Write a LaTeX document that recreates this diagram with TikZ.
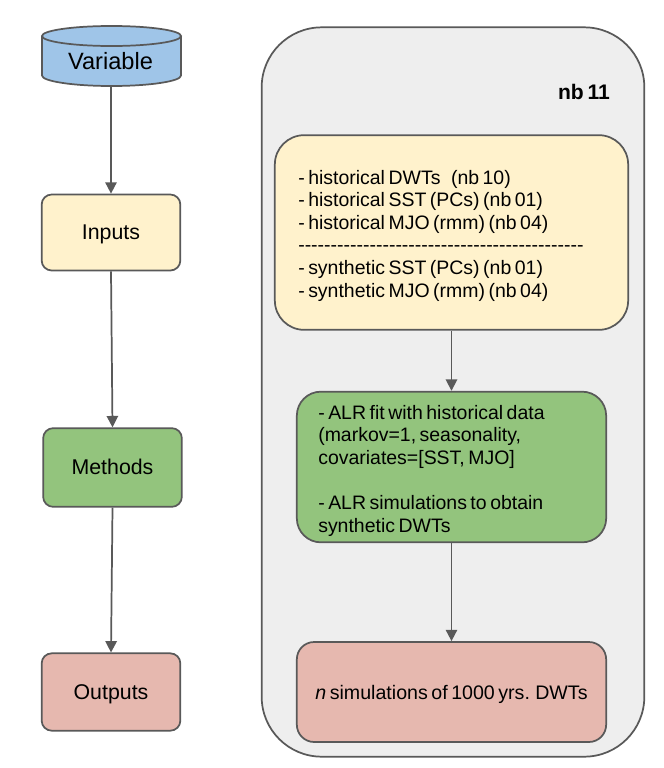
\documentclass[tikz,border=0pt]{standalone}
\usepackage{fontspec}
\setmainfont[WordSpace=0.65]{Liberation Sans}
\usetikzlibrary{arrows.meta}
\definecolor{edge}{HTML}{595959}
\definecolor{cblue}{HTML}{9FC5E8}
\definecolor{cyel}{HTML}{FFF2CC}
\definecolor{cgrn}{HTML}{93C47D}
\definecolor{cred}{HTML}{E6B8AF}
\definecolor{cgry}{HTML}{EEEEEE}
\tikzset{x=0.75pt,y=-0.75pt,
 line/.style={draw=edge,line width=1.3pt},
 box/.style={line,rounded corners=7.5pt,anchor=center,align=center,inner sep=0pt,text height=11pt,text depth=0pt,font=\fontsize{16}{18}\selectfont},
 arr/.style={line,-{Triangle[length=8.5pt,width=8.5pt]}},
 txt/.style={anchor=north west,align=left,inner sep=0pt,font=\fontsize{14.6}{16.9}\selectfont}}
\begin{document}
\begin{tikzpicture}
\useasboundingbox (0,0) rectangle (664,768);
\fill[white] (0,0) rectangle (664,768);
% left column
\fill[cblue] (42,36) arc[start angle=180,end angle=360,x radius=69.5,y radius=10] -- (181,75.5) arc[start angle=0,end angle=180,x radius=69.5,y radius=10.5] -- cycle;
\draw[line] (42,36) arc[start angle=180,end angle=-180,x radius=69.5,y radius=10] -- (42,75.5) arc[start angle=180,end angle=0,x radius=69.5,y radius=10.5] -- (181,36);
\node[font=\fontsize{17.7}{20}\selectfont,inner sep=0pt] (vart) at (110.5,61) {Variable};
\coordinate (var) at (111,86);
\node[box,fill=cyel,minimum width=104pt,minimum height=57pt] (inp) at (111,232.5) {Inputs};
\node[box,fill=cgrn,minimum width=104pt,minimum height=59pt] (met) at (112.5,467.5) {Methods};
\node[box,fill=cred,minimum width=104pt,minimum height=58pt] (out) at (111,692) {Outputs};
\draw[arr] (var) -- (inp.north);
\draw[arr] (inp.south) -- (met.north);
\draw[arr] (met.south) -- (out.north);
% right panel
\node[line,fill=cgry,rounded corners=45pt,minimum width=287pt,minimum height=547pt,inner sep=0pt] (panel) at (453,392) {};
\node[font=\bfseries\fontsize{15.8}{18}\selectfont,inner sep=0pt] (nb) at (584,92) {nb 11};
\node[box,fill=cyel,rounded corners=22pt,minimum width=265pt,minimum height=146pt] (a) at (451.5,232.5) {};
\node[txt] (at) at (298,170) {- historical DWTs\ \ \ (nb 10)\\- historical SST (PCs) (nb 01)\\- historical MJO (rmm) (nb 04)\\-{}-{}-{}-{}-{}-{}-{}-{}-{}-{}-{}-{}-{}-{}-{}-{}-{}-{}-{}-{}-{}-{}-{}-{}-{}-{}-{}-{}-{}-{}-{}-{}-{}-{}-{}-{}-{}-{}-{}-{}-{}-{}-{}-{}\\- synthetic SST (PCs) (nb 01)\\- synthetic MJO (rmm) (nb 04)};
\node[box,fill=cgrn,rounded corners=18pt,minimum width=232pt,minimum height=113pt] (b) at (451.5,467) {};
\node[txt] (bt) at (318,405) {- ALR fit with historical data\\(markov=1, seasonality,\\covariates=[SST, MJO]\\[16.9pt]- ALR simulations to obtain\\synthetic DWTs};
\node[box,fill=cred,rounded corners=13pt,minimum width=232pt,minimum height=75pt,font=\fontsize{14.7}{17}\selectfont] (c) at (451.5,692) {\textit{n} simulations of 1000 yrs. DWTs};
\draw[arr] (a.south) -- (b.north);
\draw[arr] (b.south) -- (c.north);
\end{tikzpicture}
\end{document}
